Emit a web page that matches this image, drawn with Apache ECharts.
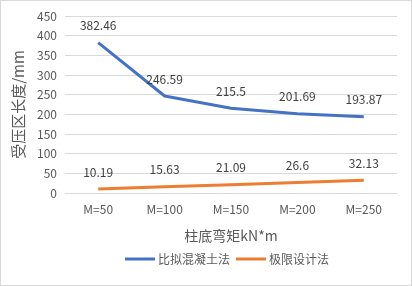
<!DOCTYPE html>
<html><head><meta charset="utf-8">
<script src="https://cdn.jsdelivr.net/npm/echarts@6/dist/echarts.min.js"></script>
<style>html,body{margin:0;padding:0;background:#fff}#c{width:412px;height:286px;box-sizing:border-box;border:1px solid #d9d9d9}</style>
</head><body><div id="c"></div>
<script>
const categories = ['M=50','M=100','M=150','M=200','M=250'];
const seriesNames = ['比拟混凝土法','极限设计法'];
const analogValues = [382.46, 246.59, 215.5, 201.69, 193.87];
const limitValues = [10.19, 15.63, 21.09, 26.6, 32.13];
const yTicks = [0, 450, 50];
const font = '"Microsoft YaHei","Noto Sans CJK SC","Noto Sans",sans-serif';
const chart = echarts.init(document.getElementById('c'));
const lbl = {show:true, position:'top', distance:11, color:'#404040', fontSize:12, fontFamily:font};
chart.setOption({
  animation:false,
  textStyle:{fontFamily:font},
  grid:{left:64, right:14, top:15, bottom:92, containLabel:false},
  legend:{top:247, left:119, itemWidth:30, itemHeight:3, itemGap:6, icon:'rect',
    textStyle:{fontSize:12, color:'#595959', fontFamily:font, padding:[0,0,0,-2]},
    data:seriesNames},
  xAxis:{type:'category', data:categories, boundaryGap:true,
    name:'柱底弯矩kN*m', nameLocation:'middle', nameGap:36,
    nameTextStyle:{fontSize:14, color:'#595959', fontFamily:font},
    axisLine:{show:true, lineStyle:{color:'#d9d9d9'}}, axisTick:{show:false},
    axisLabel:{fontSize:12, color:'#595959', margin:10, fontFamily:font}},
  yAxis:{type:'value', min:yTicks[0], max:yTicks[1], interval:yTicks[2],
    name:'受压区长度/mm', nameLocation:'middle', nameGap:37,
    nameTextStyle:{fontSize:15, color:'#595959', fontFamily:font},
    axisLine:{show:false}, axisTick:{show:false},
    axisLabel:{fontSize:12, color:'#595959', margin:8, fontFamily:font},
    splitLine:{lineStyle:{color:'#d9d9d9'}}},
  series:[
    {name:seriesNames[0], type:'line', data:analogValues, symbol:'circle', symbolSize:0, showSymbol:true,
      lineStyle:{width:3, color:'#4472C4'}, itemStyle:{color:'#4472C4'}, label:lbl},
    {name:seriesNames[1], type:'line', data:limitValues, symbol:'circle', symbolSize:0, showSymbol:true,
      lineStyle:{width:3, color:'#ED7D31'}, itemStyle:{color:'#ED7D31'}, label:lbl}
  ]
});
</script></body></html>
